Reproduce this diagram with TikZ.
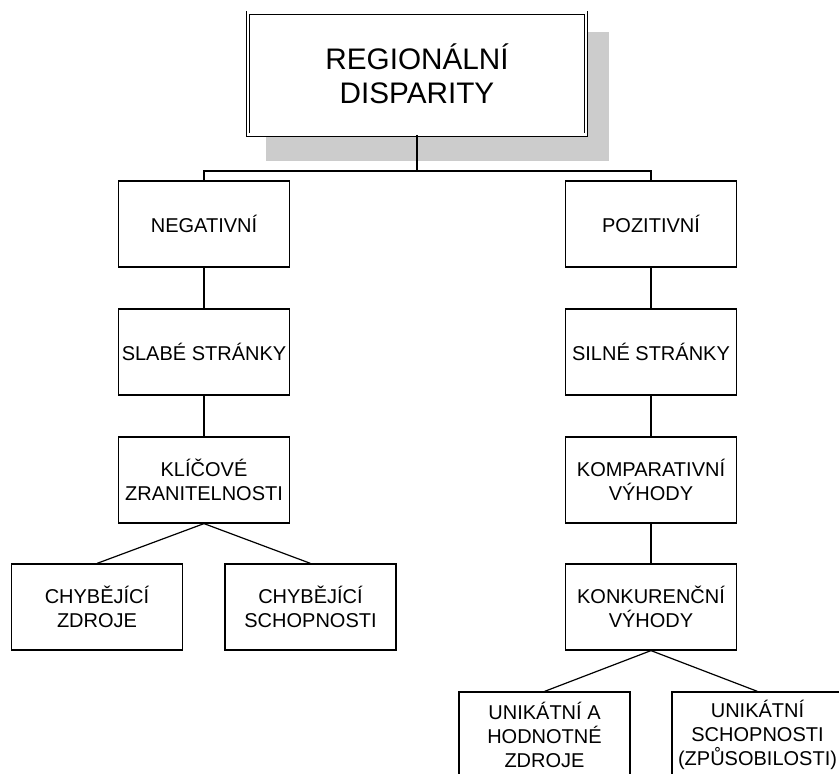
\documentclass[tikz,border=0pt]{standalone}
\usepackage{fontspec}
\setmainfont{Liberation Sans}
\definecolor{shadowgray}{RGB}{204,204,204}
\begin{document}
\begin{tikzpicture}[x=1pt,y=-1pt,
  box/.style={draw, line width=1.2pt, minimum width=171pt, minimum height=86pt,
    align=center, inner sep=0pt, fill=white, font=\fontsize{20}{24}\selectfont},
  topbox/.style={draw, double, line width=0.9pt, double distance=2.2pt,
    minimum width=338pt, minimum height=122pt, align=center, fill=white,
    font=\fontsize{29.7}{34}\selectfont},
  conn/.style={line width=1.2pt}]
\useasboundingbox (0,0) rectangle (839,774);
\clip (0,0) rectangle (839,774);
% shadow of the title box
\fill[shadowgray] (266,32) rectangle (609,161);
\node[topbox] (top) at (417,73.5) {REGION\'ALN\'I\\DISPARITY};
% left column
\node[box] (neg)   at (204,224) {NEGATIVN\'I};
\node[box] (slabe) at (204,352) {SLAB\'E STR\'ANKY};
\node[box] (klic)  at (204,480) {KL\'I\v{C}OV\'E\\ZRANITELNOSTI};
\node[box] (czdr)  at (97,607)  {CHYB\v{E}J\'IC\'I\\ZDROJE};
\node[box] (csch)  at (310.5,607) {CHYB\v{E}J\'IC\'I\\SCHOPNOSTI};
% right column
\node[box] (poz)   at (651,224) {POZITIVN\'I};
\node[box] (siln)  at (651,352) {SILN\'E STR\'ANKY};
\node[box] (komp)  at (651,480) {KOMPARATIVN\'I\\V\'YHODY};
\node[box] (konk)  at (651,607) {KONKUREN\v{C}N\'I\\V\'YHODY};
\node[box] (uhz)   at (544.5,735) {UNIK\'ATN\'I A\\HODNOTN\'E\\ZDROJE};
\node[box] (usch)  at (757.5,735) {UNIK\'ATN\'I\\SCHOPNOSTI\\(ZP\r{U}SOBILOSTI)};
% connectors
\coordinate (bar) at (417,171);
\draw[conn] (top.south) -- (bar);
\draw[conn] (neg.north) |- (bar) -| (poz.north);
\draw[conn] (neg.south) -- (slabe.north);
\draw[conn] (slabe.south) -- (klic.north);
\draw[conn] (klic.south) -- (czdr.north);
\draw[conn] (klic.south) -- (csch.north);
\draw[conn] (poz.south) -- (siln.north);
\draw[conn] (siln.south) -- (komp.north);
\draw[conn] (komp.south) -- (konk.north);
\draw[conn] (konk.south) -- (uhz.north);
\draw[conn] (konk.south) -- (usch.north);
\end{tikzpicture}
\end{document}
